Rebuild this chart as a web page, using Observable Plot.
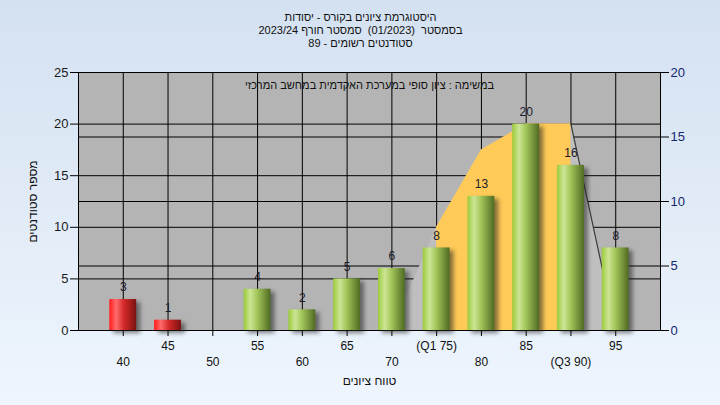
<!DOCTYPE html>
<html>
<head>
<meta charset="utf-8">
<script src="https://cdn.jsdelivr.net/npm/d3@7"></script>
<script src="https://cdn.jsdelivr.net/npm/@observablehq/plot@0.6"></script>
<style>
  html, body { margin: 0; padding: 0; }
  body { width: 720px; height: 405px; overflow: hidden;
         background: linear-gradient(to bottom, #d4e1f1, #eef5fd); }
  #chart svg { display: block; background: transparent; }
</style>
</head>
<body>
<div id="chart"></div>
<script>
// ---- data ----
const grades = [40, 45, 50, 55, 60, 65, 70, 75, 80, 85, 90, 95];
const counts = [3, 1, 0, 4, 2, 5, 6, 8, 13, 20, 16, 8];
const failLimit = 50;
const curveX = [70, 75, 80, 85, 90, 95];
const curveY = [0, 10, 17.5, 20, 20, 0];
const q1 = 75, q3 = 90;
const leftTicks = [0, 5, 10, 15, 20, 25];
const rightTicks = [0, 5, 10, 15, 20];
const rightMax = 20, leftMax = 25;
const xRow1 = [45, 55, 65, 75, 85, 95];
const xRow2 = [40, 50, 60, 70, 80, 90];
const tickLabel = {75: "(Q1 75)", 90: "(Q3 90)"};
const titles = ["היסטוגרמת ציונים בקורס - יסודות", "בסמסטר  (01/2023)  סמסטר חורף 2023/24", "סטודנטים רשומים - 89"];
const subtitle = "במשימה : ציון סופי במערכת האקדמית במחשב המרכזי";
const yTitle = "מספר סטודנטים";
const xTitle = "טווח ציונים";

const bars = grades.map((g, i) => ({g, c: counts[i]})).filter(d => d.c > 0);
const redBars = bars.filter(d => d.g < failLimit);
const greenBars = bars.filter(d => d.g >= failLimit);
const curve = curveX.map((x, i) => ({x, y: curveY[i]}));
const curveIQR = curve.filter(d => d.x >= q1 && d.x <= q3);
const curveTail = curve.filter(d => d.x >= q3);
const k = leftMax / rightMax;
const rightGrid = rightTicks.filter(v => v > 0 && v < rightMax).map(v => v * k);
const gridY = leftTicks.filter(v => v > 0 && v < leftMax).concat(rightGrid);
const fmt = v => tickLabel[v] ?? String(v);
const font = "'Liberation Sans', Arial, sans-serif";
const T = {fontSize: 11, fill: "#111", lineAnchor: "middle", textAnchor: "middle"};

const plot = Plot.plot({
  width: 720, height: 405,
  marginLeft: 78, marginRight: 60, marginTop: 72, marginBottom: 75,
  style: {fontFamily: font, fontSize: "12px", color: "#111", background: "transparent", overflow: "visible"},
  x: {domain: [35, 100], axis: null},
  y: {domain: [0, 25], axis: null},
  marks: [
    Plot.frame({fill: "#b4b4b4", stroke: null}),
    Plot.ruleY(gridY, {stroke: "#000", strokeWidth: 1}),
    Plot.ruleX(grades, {y1: 0, y2: 25, stroke: "#000", strokeWidth: 1}),
    Plot.areaY(curve, {x: "x", y: "y", fill: "#bfbfbf"}),
    Plot.areaY(curveIQR, {x: "x", y: "y", fill: "#ffca57"}),
    Plot.line(curveTail, {x: "x", y: "y", stroke: "#3a3a3a", strokeWidth: 1.2}),
    Plot.frame({stroke: "#000", strokeWidth: 1}),
    Plot.rectY(bars, {x1: d => d.g - 1.5, x2: d => d.g + 1.5, y: "c", dx: 4, dy: 3,
      fill: "#222", fillOpacity: 0.55, imageFilter: "blur(2px)"}),
    Plot.rectY(redBars, {x1: d => d.g - 1.5, x2: d => d.g + 1.5, y: "c", fill: "url(#gradRed)"}),
    Plot.rectY(greenBars, {x1: d => d.g - 1.5, x2: d => d.g + 1.5, y: "c", fill: "url(#gradGreen)"}),
    Plot.text(bars, {x: "g", y: "c", text: d => String(d.c), dy: -12, fontSize: 12, fill: "#1a1a2a"}),
    // left axis
    Plot.axisY(leftTicks, {anchor: "left", tickSize: 8, tickPadding: 2, fontSize: 13, stroke: "#000", fill: "#1a1a1a", label: null}),
    // right axis
    Plot.axisY(rightTicks.map(v => v * k), {anchor: "right", tickSize: 8, tickPadding: 2, fontSize: 13,
      tickFormat: v => String(Math.round(v / k)), stroke: "#000", fill: "#14286e", label: null}),
    // x ticks
    Plot.axisX(grades, {anchor: "bottom", tickSize: 6, tickFormat: () => "", stroke: "#000", label: null}),
    Plot.text(xRow1, {x: d => d, frameAnchor: "bottom", dy: 16, text: fmt, ...T, fontSize: 12}),
    Plot.text(xRow2, {x: d => d, frameAnchor: "bottom", dy: 32, text: fmt, ...T, fontSize: 12}),
    Plot.text([xTitle], {frameAnchor: "bottom", dy: 51, ...T, fontSize: 12}),
    Plot.text([yTitle], {frameAnchor: "left", dx: -45, rotate: -90, ...T, fontSize: 12}),
    Plot.text([subtitle], {frameAnchor: "top", dy: 13, ...T}),
    Plot.text([titles[0]], {frameAnchor: "top", dx: -9, dy: -55, ...T}),
    Plot.text([titles[1]], {frameAnchor: "top", dx: -9, dy: -42, ...T}),
    Plot.text([titles[2]], {frameAnchor: "top", dx: -9, dy: -29, ...T})
  ]
});

plot.insertAdjacentHTML("afterbegin", `
<defs>
  <linearGradient id="gradGreen" x1="0" x2="1" y1="0" y2="0">
    <stop offset="0" stop-color="#9bcb3a"/>
    <stop offset="0.25" stop-color="#cce595"/>
    <stop offset="0.5" stop-color="#a3c65a"/>
    <stop offset="1" stop-color="#4f6b22"/>
  </linearGradient>
  <linearGradient id="gradRed" x1="0" x2="1" y1="0" y2="0">
    <stop offset="0" stop-color="#ff1a1a"/>
    <stop offset="0.25" stop-color="#ff6a6a"/>
    <stop offset="0.55" stop-color="#d42828"/>
    <stop offset="1" stop-color="#7a1212"/>
  </linearGradient>
</defs>`);

// Hebrew text: right-to-left base direction
plot.querySelectorAll("text").forEach(t => {
  if (/[\u0590-\u05FF]/.test(t.textContent)) t.setAttribute("direction", "rtl");
});

document.getElementById("chart").appendChild(plot);
</script>
</body>
</html>
